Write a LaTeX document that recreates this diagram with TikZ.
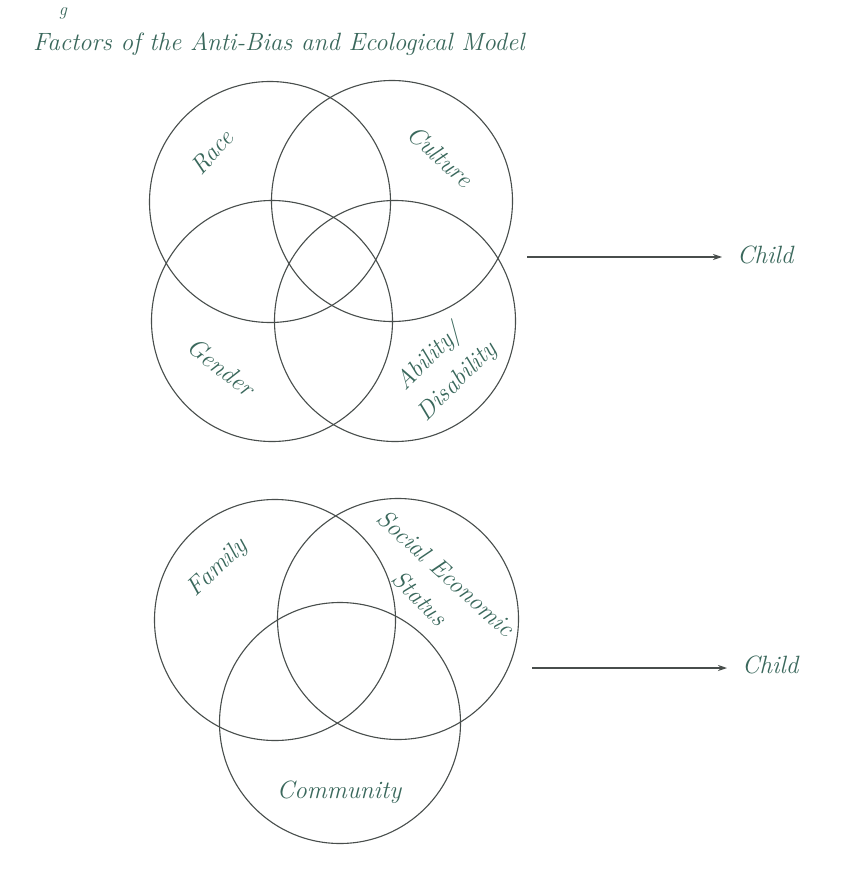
\documentclass[tikz,border=0pt]{standalone}
\usetikzlibrary{arrows.meta}
\definecolor{ink}{RGB}{72,78,76}
\definecolor{pen}{RGB}{58,104,92}
\tikzset{
  venn/.style={circle, draw=ink, line width=1.1pt, minimum size=241pt, inner sep=0pt},
  lbl/.style={text=pen, font=\fontsize{25}{25}\selectfont\itshape, inner sep=0pt, align=center},
  arr/.style={draw=ink, line width=1.1pt, -{Stealth[length=9pt,width=6pt]}}
}
\begin{document}
\begin{tikzpicture}[x=1pt,y=-1pt]
\useasboundingbox (0,0) rectangle (860,869);
\fill[white] (0,0) rectangle (860,869);
% stray fragment at top
\node[lbl, font=\fontsize{18}{18}\selectfont\itshape] (frag) at (63,13) {g};
% title
\node[lbl, anchor=west, font=\fontsize{25}{26}\selectfont\itshape] (title) at (33,44) {Factors of the Anti-Bias and Ecological Model};
% top Venn diagram
\node[venn] (race) at (270,202) {};
\node[venn] (culture) at (392,201) {};
\node[venn] (gender) at (272,321) {};
\node[venn] (ability) at (395,321) {};
\node[lbl, rotate=48] (raceL) at (212,152) {Race};
\node[lbl, rotate=-42] (cultureL) at (440,156) {Culture};
\node[lbl, rotate=-38] (genderL) at (221,367) {Gender};
\node[lbl, rotate=45] (abilityL) at (430,358) {Ability/};
\node[lbl, rotate=45] (disabilityL) at (458,382) {Disability};
\coordinate (a1) at (527,257);
\node[lbl, anchor=west] (child1) at (737,255) {Child};
\draw[arr] (a1) -- (a1 -| 722,0);
% bottom Venn diagram
\node[venn] (family) at (275,620) {};
\node[venn] (ses) at (398,619) {};
\node[venn] (community) at (340,723) {};
\node[lbl, rotate=43] (familyL) at (218,568) {Family};
\node[lbl, rotate=-42] (sesL) at (446,573) {Social Economic};
\node[lbl, rotate=-45] (statusL) at (420,598) {Status};
\node[lbl] (communityL) at (339,792) {Community};
\coordinate (a2) at (532,668);
\node[lbl, anchor=west] (child2) at (742,665) {Child};
\draw[arr] (a2) -- (a2 -| 727,0);
\end{tikzpicture}
\end{document}
